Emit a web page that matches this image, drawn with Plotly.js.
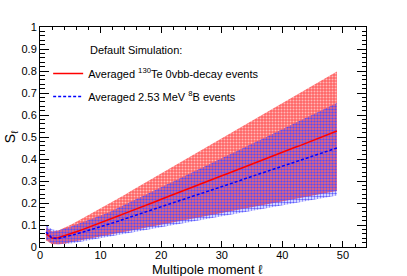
<!DOCTYPE html>
<html>
<head>
<meta charset="utf-8">
<script src="https://cdn.plot.ly/plotly-3.0.1.min.js"></script>
<style>html,body{margin:0;padding:0;background:#fff;}#plot{width:407px;height:276px;}</style>
</head>
<body>
<div id="plot"></div>
<script>
// Multipole moment ℓ
var ell = [1,2,3,4,5,6,7,8,9,10,11,12,13,14,15,16,17,18,19,20,21,22,23,24,25,26,27,28,29,30,31,32,33,34,35,36,37,38,39,40,41,42,43,44,45,46,47,48,49];

// Averaged 130Te 0vbb-decay events
var teMean = [0.060,0.040,0.042,0.050,0.060,0.069,0.079,0.089,0.099,0.110,0.120,0.131,0.142,0.153,0.163,0.174,0.185,0.196,0.206,0.217,0.228,0.238,0.249,0.260,0.270,0.281,0.292,0.302,0.313,0.324,0.334,0.345,0.356,0.366,0.377,0.388,0.398,0.409,0.420,0.430,0.441,0.452,0.462,0.473,0.484,0.494,0.505,0.516,0.527];
var teUpper = [0.090,0.070,0.075,0.086,0.100,0.115,0.130,0.145,0.160,0.175,0.190,0.206,0.222,0.238,0.254,0.270,0.286,0.302,0.318,0.334,0.350,0.366,0.382,0.398,0.414,0.430,0.446,0.462,0.478,0.494,0.510,0.526,0.542,0.558,0.574,0.590,0.606,0.622,0.638,0.654,0.670,0.686,0.702,0.718,0.734,0.750,0.766,0.782,0.798];
var teLower = [0.030,0.012,0.012,0.015,0.022,0.027,0.032,0.038,0.043,0.048,0.054,0.059,0.064,0.069,0.075,0.080,0.085,0.091,0.096,0.101,0.107,0.112,0.117,0.122,0.128,0.133,0.138,0.144,0.149,0.154,0.160,0.165,0.170,0.175,0.181,0.186,0.191,0.197,0.202,0.207,0.213,0.218,0.223,0.228,0.234,0.239,0.244,0.250,0.255];

// Averaged 2.53 MeV 8B events
var bMean = [0.068,0.040,0.038,0.044,0.051,0.059,0.067,0.075,0.083,0.091,0.100,0.109,0.118,0.128,0.137,0.146,0.155,0.164,0.174,0.183,0.192,0.201,0.210,0.220,0.229,0.238,0.247,0.256,0.266,0.275,0.284,0.293,0.302,0.312,0.321,0.330,0.339,0.348,0.358,0.367,0.376,0.385,0.394,0.404,0.413,0.422,0.431,0.440,0.450];
var bUpper = [0.100,0.080,0.075,0.082,0.092,0.102,0.112,0.122,0.131,0.140,0.153,0.166,0.180,0.193,0.206,0.219,0.232,0.246,0.259,0.272,0.285,0.298,0.312,0.325,0.338,0.351,0.364,0.378,0.391,0.404,0.417,0.430,0.444,0.457,0.470,0.483,0.496,0.510,0.523,0.536,0.549,0.562,0.576,0.589,0.602,0.615,0.628,0.642,0.655];
var bLower = [0.035,0.015,0.012,0.013,0.016,0.020,0.025,0.030,0.034,0.039,0.044,0.049,0.054,0.059,0.064,0.069,0.074,0.079,0.084,0.089,0.094,0.099,0.104,0.109,0.114,0.119,0.124,0.129,0.134,0.139,0.144,0.149,0.154,0.159,0.164,0.169,0.174,0.179,0.184,0.189,0.194,0.199,0.204,0.209,0.214,0.219,0.224,0.229,0.234];

var legendHeader = "Default Simulation:";
var teName = "Averaged <sup>130</sup>Te 0vbb-decay events";
var bName = "Averaged 2.53 MeV <sup>8</sup>B events";
var xTitle = "Multipole moment \u2113";
var yTitle = "S<sub>\u2113</sub>";

var FONT = "Liberation Sans, Arial, Helvetica, sans-serif";

var traces = [
  {x: ell, y: teLower, mode: 'lines', line: {width: 0, color: 'rgba(0,0,0,0)'}, showlegend: false, hoverinfo: 'skip'},
  {x: ell, y: teUpper, mode: 'lines', line: {width: 0, color: 'rgba(0,0,0,0)'}, fill: 'tonexty',
   fillcolor: 'rgba(255,110,110,1)',
   fillpattern: {shape: '.', bgcolor: 'rgba(255,100,100,1)', fgcolor: 'rgba(255,185,185,1)', size: 3, solidity: 0.35},
   showlegend: false, hoverinfo: 'skip'},
  {x: ell, y: bLower, mode: 'lines', line: {width: 0, color: 'rgba(0,0,0,0)'}, showlegend: false, hoverinfo: 'skip'},
  {x: ell, y: bUpper, mode: 'lines', line: {width: 0, color: 'rgba(0,0,0,0)'}, fill: 'tonexty',
   fillcolor: 'rgba(0,0,0,0)',
   fillpattern: {shape: '.', bgcolor: 'rgba(0,0,0,0)', fgcolor: 'rgba(50,50,255,0.8)', size: 3, solidity: 0.5},
   showlegend: false, hoverinfo: 'skip'},
  {x: ell, y: teMean, mode: 'lines', name: teName, line: {color: '#ff0000', width: 1.5}, legendgroup: 'a'},
  {x: ell, y: bMean, mode: 'lines', name: bName, line: {color: '#0000ff', width: 1.5, dash: '3px,2px'}, legendgroup: 'b'}
];

var layout = {
  width: 407, height: 276,
  margin: {l: 40, r: 41, t: 27, b: 29, pad: 0},
  paper_bgcolor: '#fff', plot_bgcolor: '#fff',
  font: {family: FONT, size: 11, color: '#000'},
  showlegend: true,
  legend: {x: 0.025, y: 0.855, xanchor: 'left', yanchor: 'top', bgcolor: 'rgba(0,0,0,0)',
           font: {family: FONT, size: 11, color: '#000'}, tracegroupgap: 4, itemwidth: 30},
  xaxis: {
    range: [0, 53.8], showgrid: false, zeroline: false,
    ticks: 'inside', ticklen: 6, tickwidth: 1, tickcolor: '#000', dtick: 10, tick0: 0,
    minor: {dtick: 2, ticks: 'inside', ticklen: 3, tickcolor: '#000', showgrid: false},
    showline: true, linecolor: '#000', linewidth: 1, mirror: 'allticks',
    tickfont: {family: FONT, size: 11, color: '#000'},
    ticklabelstandoff: -2,
    automargin: false
  },
  yaxis: {
    range: [0, 1], showgrid: false, zeroline: false,
    ticks: 'inside', ticklen: 9, tickwidth: 1, tickcolor: '#000', dtick: 0.1, tick0: 0,
    minor: {dtick: 0.02, ticks: 'inside', ticklen: 4.5, tickcolor: '#000', showgrid: false},
    showline: true, linecolor: '#000', linewidth: 1, mirror: 'allticks',
    tickfont: {family: FONT, size: 11, color: '#000'},
    automargin: false,
    title: {text: yTitle, font: {family: FONT, size: 14, color: '#000'}, standoff: 2}
  },
  annotations: [
    {text: legendHeader, xref: 'paper', yref: 'paper', x: 0.147, y: 0.895, xanchor: 'left', yanchor: 'middle',
     showarrow: false, font: {family: FONT, size: 11, color: '#000'}},
    {text: xTitle, xref: 'paper', yref: 'paper', x: 0.515, y: -0.102, xanchor: 'center', yanchor: 'middle',
     showarrow: false, font: {family: FONT, size: 13, color: '#000'}}
  ]
};

Plotly.newPlot('plot', traces, layout, {staticPlot: true, displayModeBar: false});
</script>
</body>
</html>
